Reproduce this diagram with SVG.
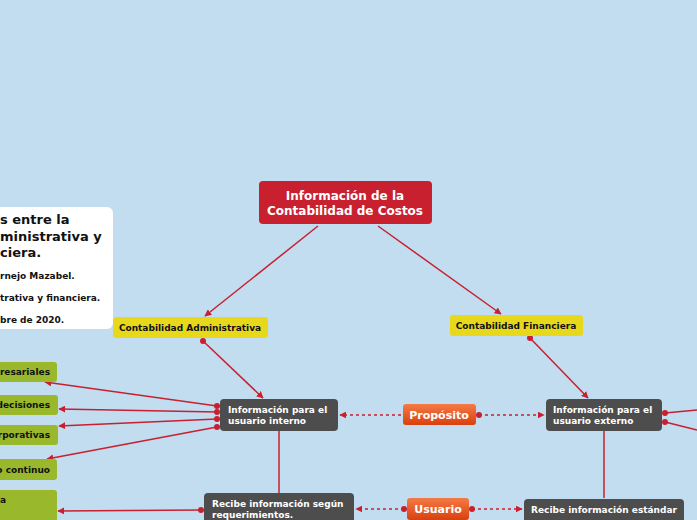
<svg xmlns="http://www.w3.org/2000/svg" width="697" height="520" viewBox="0 0 697 520">
<defs>
<marker id="ah" viewBox="0 0 10 10" refX="9" refY="5" markerWidth="7" markerHeight="7" orient="auto" markerUnits="userSpaceOnUse"><path d="M0,0 L10,5 L0,10 z" fill="#c8202f"/></marker>
<linearGradient id="og" x1="0" y1="0" x2="0" y2="1"><stop offset="0" stop-color="#f57a45"/><stop offset="1" stop-color="#d9400e"/></linearGradient>
<style>
text{font-family:"DejaVu Sans","Liberation Sans",sans-serif;font-weight:bold}
.c{stroke:#c8202f;stroke-width:1.5;fill:none}
.d{stroke-dasharray:3,3}
.dot{fill:#c8202f}
.dk{fill:#4d4d4d}
.w{fill:#fff;font-size:9px}
.k{fill:#111;font-size:9px}
.g{fill:#9ab82c}
.y{fill:#e8d81c}
</style>
</defs>
<rect width="697" height="520" fill="#c2ddf0"/>
<g id="connectors">
<path class="c" d="M318,226 L205,316" marker-end="url(#ah)"/>
<path class="c" d="M378,226 L501,314" marker-end="url(#ah)"/>
<path class="c" d="M203,341 L263,398" marker-end="url(#ah)"/>
<path class="c" d="M530,338 L588,398" marker-end="url(#ah)"/>
<path class="c" d="M217,406 L45,382" marker-end="url(#ah)"/>
<path class="c" d="M217,412 L59,409" marker-end="url(#ah)"/>
<path class="c" d="M217,419 L59,426" marker-end="url(#ah)"/>
<path class="c" d="M217,427 L47,459" marker-end="url(#ah)"/>
<path class="c" d="M279,431 L279,493"/>
<path class="c" d="M604,431 L604,498"/>
<path class="c" d="M665,413 L697,410"/>
<path class="c" d="M665,422 L697,430"/>
<path class="c d" d="M401,415 L340,415" marker-end="url(#ah)"/>
<path class="c d" d="M479,415 L544,415" marker-end="url(#ah)"/>
<path class="c d" d="M404,509 L356,509" marker-end="url(#ah)"/>
<path class="c d" d="M472,509 L522,509" marker-end="url(#ah)"/>
<path class="c" d="M201,510 L58,511" marker-end="url(#ah)"/>
<g class="dot">
<circle cx="203" cy="341" r="3"/><circle cx="530" cy="338" r="3"/>
<circle cx="217" cy="406" r="3"/><circle cx="217" cy="412" r="3"/><circle cx="217" cy="419" r="3"/><circle cx="217" cy="427" r="3"/>
<circle cx="665" cy="413" r="3"/><circle cx="665" cy="422" r="3"/>
<circle cx="479" cy="415" r="3"/><circle cx="404" cy="509" r="3"/><circle cx="472" cy="509" r="3"/><circle cx="201" cy="510" r="3"/>
</g>
</g>
<g id="central"><rect x="259" y="181" width="173" height="43" rx="4" fill="#c8202f"/>
<text x="345" y="200" text-anchor="middle" fill="#fff" font-size="12">Información de la</text>
<text x="345" y="215" text-anchor="middle" fill="#fff" font-size="12">Contabilidad de Costos</text></g>
<g id="note"><rect x="-10" y="207" width="123" height="122" rx="6" fill="#fff"/>
<text x="0" y="224" font-size="13" fill="#111">s entre la</text>
<text x="0" y="241" font-size="13" fill="#111">ministrativa y</text>
<text x="0" y="257" font-size="13" fill="#111">ciera.</text>
<text x="0" y="279" class="k">rnejo Mazabel.</text>
<text x="0" y="301" class="k">trativa y financiera.</text>
<text x="0" y="323" class="k">bre de 2020.</text></g>
<g id="ca"><rect x="113" y="317" width="155" height="21" rx="3" class="y"/><text x="190" y="331" text-anchor="middle" class="k">Contabilidad Administrativa</text></g>
<g id="cf"><rect x="450" y="315" width="133" height="21" rx="3" class="y"/><text x="516" y="329" text-anchor="middle" class="k">Contabilidad Financiera</text></g>
<g id="interno"><rect x="220" y="399" width="118" height="32" rx="4" class="dk"/><text x="228" y="413" class="w">Información para el</text><text x="228" y="424" class="w">usuario interno</text></g>
<g id="externo"><rect x="546" y="399" width="116" height="32" rx="4" class="dk"/><text x="553" y="413" class="w">Información para el</text><text x="553" y="424" class="w">usuario externo</text></g>
<g id="proposito"><rect x="403" y="404" width="73" height="21" rx="3" fill="url(#og)"/><text x="439" y="418.5" text-anchor="middle" fill="#fff" font-size="11">Propósito</text></g>
<g id="usuario"><rect x="407" y="498" width="62" height="22" rx="3" fill="url(#og)"/><text x="438" y="513" text-anchor="middle" fill="#fff" font-size="11">Usuario</text></g>
<g id="recibe1"><rect x="204" y="493" width="150" height="32" rx="4" class="dk"/><text x="212" y="507" class="w">Recibe información según</text><text x="212" y="518" class="w">requerimientos.</text></g>
<g id="recibe2"><rect x="524" y="499" width="160" height="25" rx="4" class="dk"/><text x="604" y="513" text-anchor="middle" class="w">Recibe información estándar</text></g>
<g id="g1"><rect x="-10" y="362" width="67" height="20" rx="3" class="g"/><text x="50" y="375" text-anchor="end" class="k">resariales</text></g>
<g id="g2"><rect x="-10" y="395" width="68" height="20" rx="3" class="g"/><text x="50" y="408" text-anchor="end" class="k">decisiones</text></g>
<g id="g3"><rect x="-10" y="425" width="68" height="20" rx="3" class="g"/><text x="50" y="438" text-anchor="end" class="k">rporativas</text></g>
<g id="g4"><rect x="-10" y="459" width="67" height="21" rx="3" class="g"/><text x="50" y="473" text-anchor="end" class="k">o continuo</text></g>
<g id="g5"><rect x="-10" y="490" width="67" height="35" rx="3" class="g"/><text x="0" y="503" class="k">a</text></g>
</svg>
